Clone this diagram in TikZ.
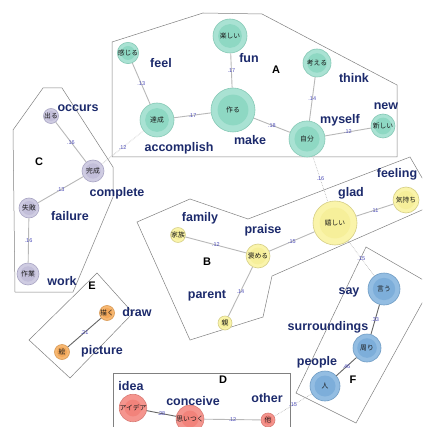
\documentclass[tikz,border=0pt]{standalone}
\usepackage{fontspec}
\setsansfont{Liberation Sans}
\newfontfamily\jpfont{Noto Sans CJK JP}
\usetikzlibrary{calc}
\definecolor{tealout}{HTML}{A9E2D3}
\definecolor{tealin}{HTML}{8ED8C3}
\definecolor{tealbd}{HTML}{86C9B6}
\definecolor{lavout}{HTML}{CFCCE2}
\definecolor{lavin}{HTML}{C2BED9}
\definecolor{lavbd}{HTML}{A9A5C4}
\definecolor{yelout}{HTML}{FAF4AA}
\definecolor{yelin}{HTML}{F6EF9A}
\definecolor{yelbd}{HTML}{D6CF86}
\definecolor{orgout}{HTML}{F7B872}
\definecolor{orgin}{HTML}{F3A85A}
\definecolor{orgbd}{HTML}{D99A55}
\definecolor{redout}{HTML}{F5958E}
\definecolor{redin}{HTML}{F2837B}
\definecolor{redbd}{HTML}{D97C75}
\definecolor{bluout}{HTML}{93BDE2}
\definecolor{bluin}{HTML}{7DAEDA}
\definecolor{blubd}{HTML}{6F9CC4}
\definecolor{navy}{HTML}{1C2A6C}
\definecolor{wtblue}{HTML}{4A4AB8}
\tikzset{
  wd/.style 2 args={circle, inner sep=0pt, draw=#1bd, fill=#1out, line width=0.6pt,
    minimum size={2*#2pt}, font=\jpfont\fontsize{6.8}{6.8}\selectfont, text=black!90,
    path picture={\fill[#1in] (path picture bounding box.center) circle ({0.7*#2pt});}},
  lbl/.style={font=\sffamily\bfseries\fontsize{12.5}{12.5}\selectfont, text=navy, inner sep=0pt},
  grpname/.style={font=\sffamily\bfseries\fontsize{11}{11}\selectfont, inner sep=0pt},
  hull/.style={draw=black!50, line width=0.5pt},
  edge/.style={draw=black!28, line width=0.9pt},
  darkedge/.style={draw=black!60, line width=0.9pt},
  crossedge/.style={draw=black!30, densely dotted, line width=0.6pt},
  wt/.style={font=\sffamily\fontsize{5.5}{5.5}\selectfont, text=wtblue, inner sep=0.5pt},
}
\begin{document}
\begin{tikzpicture}[x=1pt,y=-1pt]
    \clip (0,0) rectangle (422,427);
    \fill[white] (0,0) rectangle (422,427);
    % hulls
    \draw[hull] (112,42) -- (203,13) -- (262,14) -- (397,85) -- (397,157) -- (112,157) -- cycle;
    \draw[hull] (43,88) -- (62,88) -- (113,167) -- (113,197) -- (73,292) -- (15,292) -- (13,130) -- cycle;
    \draw[hull] (137,222) -- (190,199) -- (248,219) -- (410,157) -- (432,195) -- (422,210) -- (272,276) -- (263,317) -- (190,340) -- cycle;
    \draw[hull] (97,273) -- (133,313) -- (70,378) -- (29,340) -- cycle;
    \draw[hull] (113,440) -- (113,373) -- (290,373) -- (290,440);
    \draw[hull] (366,247) -- (432,285) -- (356,423) -- (296,393) -- cycle;
    % group names
    \node[grpname] (gA) at (276,70) {A};
    \node[grpname] (gB) at (207,262) {B};
    \node[grpname] (gC) at (39,162) {C};
    \node[grpname] (gD) at (223,380) {D};
    \node[grpname] (gE) at (92,286) {E};
    \node[grpname] (gF) at (353,380) {F};
    % group A
    \node[wd={teal}{17}] (tanoshii) at (230,36) {楽しい};
    \node[wd={teal}{10}] (kanjiru) at (128,53) {感じる};
    \node[wd={teal}{22}] (tsukuru) at (233,110) {作る};
    \node[wd={teal}{17}] (tassei) at (157,120) {達成};
    \node[wd={teal}{18}] (jibun) at (307,139) {自分};
    \node[wd={teal}{14}] (kangaeru) at (317,63) {考える};
    \node[wd={teal}{12}] (atarashii) at (383,126) {新しい};
    % group C
    \node[wd={lav}{7.5}] (deru) at (51,116) {出る};
    \node[wd={lav}{11}] (kansei) at (93,171) {完成};
    \node[wd={lav}{10}] (shippai) at (29,208) {失敗};
    \node[wd={lav}{11}] (sagyou) at (28,274) {作業};
    % group B
    \node[wd={yel}{7}] (kazoku) at (178,235) {家族};
    \node[wd={yel}{12}] (homeru) at (258,256) {褒める};
    \node[wd={yel}{7}] (oya) at (225,323) {親};
    \node[wd={yel}{22}] (ureshii) at (335,223) {嬉しい};
    \node[wd={yel}{13}] (kimochi) at (406,200) {気持ち};
    % group E
    \node[wd={org}{7.5}] (kaku) at (107,313) {描く};
    \node[wd={org}{7.5}] (e) at (62,352) {絵};
    % group D
    \node[wd={red}{12}] (aidea) at (133,408) {アイデア};
    \node[wd={red}{12}] (omoitsuku) at (190,419) {思いつく};
    \node[wd={red}{7}] (hoka) at (268,420) {他};
    % group F
    \node[wd={blu}{16}] (iu) at (384,289) {言う};
    \node[wd={blu}{14}] (mawari) at (367,348) {周り};
    \node[wd={blu}{15}] (hito) at (325,386) {人};
    % links
    \draw[edge] (kanjiru) -- node[wt]{.13} (tassei);
    \draw[edge] (tanoshii) -- node[wt]{.17} (tsukuru);
    \draw[edge] (tassei) -- node[wt]{.17} (tsukuru);
    \draw[edge] (tsukuru) -- node[wt]{.18} (jibun);
    \draw[edge] (kangaeru) -- node[wt]{.14} (jibun);
    \draw[edge] (jibun) -- node[wt]{.12} (atarashii);
    \draw[edge] (deru) -- node[wt]{.16} (kansei);
    \draw[edge] (kansei) -- node[wt]{.13} (shippai);
    \draw[edge] (shippai) -- node[wt]{.16} (sagyou);
    \draw[edge] (kazoku) -- node[wt]{.12} (homeru);
    \draw[edge] (homeru) -- node[wt]{.14} (oya);
    \draw[edge] (homeru) -- node[wt]{.15} (ureshii);
    \draw[edge] (ureshii) -- node[wt]{.11} (kimochi);
    \draw[darkedge] (kaku) -- node[wt]{.21} (e);
    \draw[darkedge] (aidea) -- node[wt]{.28} (omoitsuku);
    \draw[edge] (omoitsuku) -- node[wt]{.12} (hoka);
    \draw[darkedge] (iu) -- node[wt]{.33} (mawari);
    \draw[darkedge] (mawari) -- node[wt]{.46} (hito);
    \draw[crossedge] (tassei) -- node[wt]{.12} (kansei);
    \draw[crossedge] (jibun) -- node[wt]{.16} (ureshii);
    \draw[crossedge] (ureshii) -- node[wt]{.15} (iu);
    \draw[crossedge] (hoka) -- node[wt]{.15} (hito);
    % words
    \node[lbl] (lfeel) at (161,63) {feel};
    \node[lbl] (lfun) at (249,58) {fun};
    \node[lbl] (lmake) at (250,140) {make};
    \node[lbl] (laccomplish) at (179,148) {accomplish};
    \node[lbl] (lthink) at (354,78) {think};
    \node[lbl] (lnew) at (386,106) {new};
    \node[lbl] (lmyself) at (340,120) {myself};
    \node[lbl] (loccurs) at (78,108) {occurs};
    \node[lbl] (lcomplete) at (117,193) {complete};
    \node[lbl] (lfailure) at (70,216) {failure};
    \node[lbl] (lwork) at (62,281) {work};
    \node[lbl] (lfamily) at (200,218) {family};
    \node[lbl] (lpraise) at (263,230) {praise};
    \node[lbl] (lparent) at (207,296) {parent};
    \node[lbl] (lglad) at (351,193) {glad};
    \node[lbl] (lfeeling) at (397,174) {feeling};
    \node[lbl] (ldraw) at (137,312) {draw};
    \node[lbl] (lpicture) at (102,351) {picture};
    \node[lbl] (lidea) at (131,386) {idea};
    \node[lbl] (lconceive) at (193,401) {conceive};
    \node[lbl] (lother) at (267,398) {other};
    \node[lbl] (lsay) at (349,292) {say};
    \node[lbl] (lsurroundings) at (328,327) {surroundings};
    \node[lbl] (lpeople) at (317,362) {people};
\end{tikzpicture}
\end{document}
